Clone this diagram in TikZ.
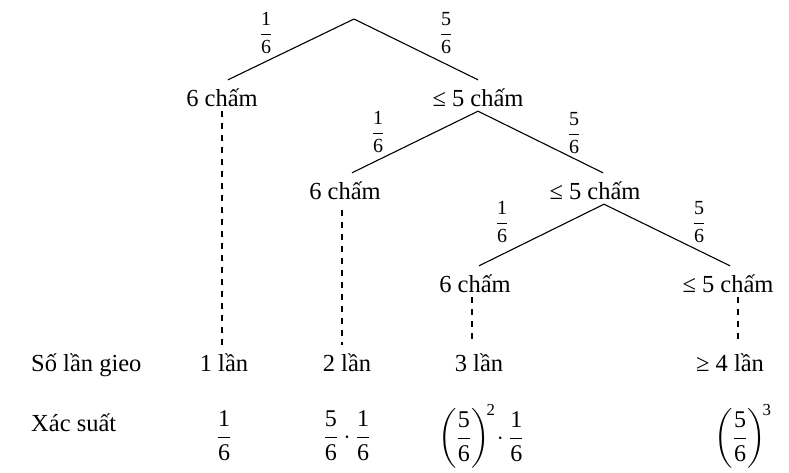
\documentclass[tikz,border=0pt]{standalone}
\usepackage{amsmath}
\usepackage{fontspec}
\setmainfont{Liberation Serif}

\newcommand{\fr}[2]{$\dfrac{\text{#1}}{\text{#2}}$}

\tikzstyle{chamnode} = [font=\fontsize{24.5}{29}\selectfont, inner sep=5pt, text height=21pt, text depth=0pt, anchor=base]
\tikzstyle{problabel} = [font=\fontsize{20}{24}\selectfont, inner sep=0pt]
\tikzstyle{rowvalue} = [font=\fontsize{24}{29}\selectfont, inner sep=0pt]
\tikzstyle{branch} = [line width=1.1pt]
\tikzstyle{guide} = [line width=1.2pt, dash pattern=on 6pt off 6pt]

\begin{document}
\begin{tikzpicture}[x=1pt, y=-1pt]
        \useasboundingbox (0,0) rectangle (789,472);
        \coordinate (root) at (354,19);
        \node (a1) [chamnode] at (222,106) {6 chấm};
        \node (b1) [chamnode] at (478,106) {≤ 5 chấm};
        \node (a2) [chamnode] at (345,199) {6 chấm};
        \node (b2) [chamnode] at (595,199) {≤ 5 chấm};
        \node (a3) [chamnode] at (475,292) {6 chấm};
        \node (b3) [chamnode] at (728,292) {≤ 5 chấm};

        \draw [branch] (root) -- ([xshift=6pt]a1.north);
        \draw [branch] (root) -- (b1.north);
        \draw [branch] (b1.south) -- ([xshift=7pt]a2.north);
        \draw [branch] (b1.south) -- ([xshift=8pt]b2.north);
        \draw [branch] ([xshift=9pt]b2.south) -- ([xshift=4pt]a3.north);
        \draw [branch] ([xshift=9pt]b2.south) -- ([xshift=2pt]b3.north);

        \node (p1) [problabel] at (266,33) {\fr{1}{6}};
        \node (p2) [problabel] at (446,33) {\fr{5}{6}};
        \node (p3) [problabel] at (378,132) {\fr{1}{6}};
        \node (p4) [problabel] at (574,133) {\fr{5}{6}};
        \node (p5) [problabel] at (502,222) {\fr{1}{6}};
        \node (p6) [problabel] at (699,222) {\fr{5}{6}};

        \node (times) [chamnode, anchor=base west] at (26,371) {Số lần gieo};
        \node (c1) [chamnode] at (224,371) {1 lần};
        \node (c2) [chamnode] at (347,371) {2 lần};
        \node (c3) [chamnode] at (479,371) {3 lần};
        \node (c4) [chamnode] at (730,371) {≥ 4 lần};

        \draw [guide] (a1.south) -- (a1.south |- c1.north);
        \draw [guide] ([xshift=-3pt,yshift=-6pt]a2.south) -- ([xshift=-3pt]a2.south |- c2.north);
        \draw [guide] ([xshift=-3pt]a3.south) -- ([xshift=-3pt]a3.south |- c3.north);
        \draw [guide] ([xshift=10pt]b3.south) -- ([xshift=10pt]b3.south |- c4.north);

        \node (prob) [chamnode, anchor=base west] at (26,431) {Xác suất};
        \node (v1) [rowvalue] at (224,436) {\fr{1}{6}};
        \node (v2) [rowvalue] at (347,436) {$\dfrac{\text{5}}{\text{6}}\cdot\dfrac{\text{1}}{\text{6}}$};
        \node (v3) [rowvalue] at (481,436) {$\left(\dfrac{\text{5}}{\text{6}}\right)^{\!\text{2}}\!\cdot\dfrac{\text{1}}{\text{6}}$};
        \node (v4) [rowvalue] at (743,436) {$\left(\dfrac{\text{5}}{\text{6}}\right)^{\!\text{3}}$};
    \end{tikzpicture}
\end{document}
